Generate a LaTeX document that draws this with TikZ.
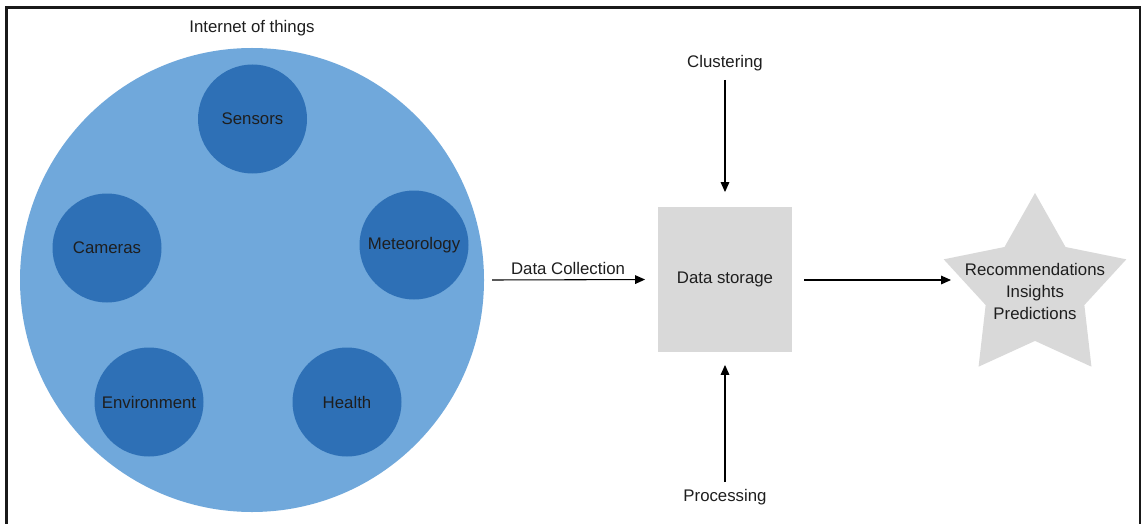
\documentclass[tikz,border=0pt]{standalone}
\usepackage{fontspec}
\setmainfont{Liberation Sans}
\usetikzlibrary{shapes.geometric,arrows.meta}
\definecolor{bigblue}{RGB}{112,168,219}
\definecolor{smallblue}{RGB}{46,112,182}
\definecolor{boxgray}{RGB}{217,217,217}
\definecolor{txt}{RGB}{30,30,30}
\tikzset{
  lbl/.style={font=\fontsize{12.6}{15}\selectfont, text=txt, inner sep=0pt},
  thing/.style={circle, fill=smallblue, minimum size=81.75pt, inner sep=0pt, font=\fontsize{12.6}{15}\selectfont, text=txt},
  conn/.style={draw=black, line width=0.8pt, -{Triangle[length=7.5pt,width=6.5pt]}}
}
\begin{document}
\begin{tikzpicture}[x=0.75pt,y=-0.75pt]
\useasboundingbox (0,0) rectangle (1141,524);
\clip (0,0) rectangle (1141,524);
\fill[white] (0,0) rectangle (1141,524);
\draw[line width=2.2pt, black!90] (6.5,560) -- (6.5,7.5) -- (1140,7.5) -- (1140,560);
% IoT
\node[circle, fill=bigblue, minimum size=348pt, inner sep=0pt] (iot) at (252,280) {};
\node[lbl] (iottitle) at (252,28) {Internet of things};
\node[thing] (sensors) at (252.5,119) {Sensors};
\node[thing] (cameras) at (107,248) {Cameras};
\node[thing] (meteo) at (414,245) {Meteorology};
\node[thing] (env) at (149,402) {Environment};
\node[thing] (health) at (347,402) {Health};
% storage
\node[fill=boxgray, minimum width=100.5pt, minimum height=108.75pt, inner sep=0pt, font=\fontsize{12.6}{15}\selectfont, text=txt] (store) at (725,279.5) {Data storage};
\node[lbl] (clust) at (725,63) {Clustering};
\node[lbl] (proc) at (725,497) {Processing};
\coordinate (clustA) at (725,80);
\coordinate (procA) at (725,482);
\coordinate (dcA) at (492,280);
\coordinate (outA) at (804,280);
\coordinate (starA) at (951,280);
\draw[conn, shorten >=11pt] (clustA) -- (store.north);
\draw[conn, shorten >=9.5pt] (procA) -- (store.south);
\draw[conn, shorten >=9.5pt] (dcA) -- (store.west);
\node[lbl] (dclabel) at (568,268) {Data Collection};
\draw[conn] (outA) -- (starA);
% star
\node[star, star points=5, star point ratio=1.85, minimum size=144pt, inner sep=0pt, fill=boxgray] (star) at (1035,289) {};
\node[lbl, align=center, font=\fontsize{12.6}{16.5}\selectfont] (startext) at (1035,291) {Recommendations\\Insights\\Predictions};
\end{tikzpicture}
\end{document}
